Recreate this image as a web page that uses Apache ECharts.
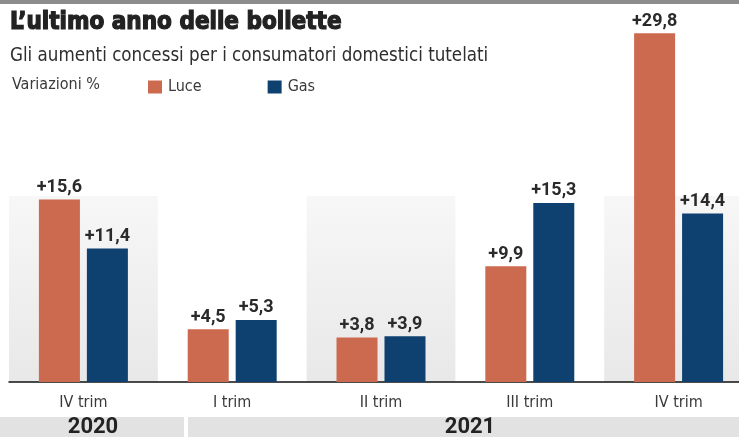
<!DOCTYPE html>
<html>
<head>
<meta charset="utf-8">
<script src="https://cdn.jsdelivr.net/npm/echarts@6/dist/echarts.min.js"></script>
<style>
html,body{margin:0;padding:0;background:#fff;overflow:hidden;}
#chart{width:739px;height:437px;}
</style>
</head>
<body>
<div id="chart"></div>
<script>
// ---- data ----
var categories = ['IV trim', 'I trim', 'II trim', 'III trim', 'IV trim'];
var luce = [15.6, 4.5, 3.8, 9.9, 29.8];
var gas = [11.4, 5.3, 3.9, 15.3, 14.4];
var seriesNames = ['Luce', 'Gas'];
var years = ['2020', '2021'];
var titleText = 'L\u2019ultimo anno delle bollette';
var subtitleText = 'Gli aumenti concessi per i consumatori domestici tutelati';
var unitText = 'Variazioni %';

var LUCE = '#cc6a4f';
var GAS = '#0e416f';
var NARROW = '"Liberation Sans Narrow", "DejaVu Sans Condensed", "Roboto", sans-serif';

function fmt(v) { return '+' + v.toFixed(1).replace('.', ','); }

var chart = echarts.init(document.getElementById('chart'), null, {renderer: 'canvas'});

var panel = new echarts.graphic.LinearGradient(0, 0, 0, 1, [
  {offset: 0, color: 'rgba(255,255,255,0)'},
  {offset: 0.47, color: 'rgba(255,255,255,0)'},
  {offset: 0.471, color: '#f7f7f7'},
  {offset: 1, color: '#e8e8e8'}
]);

var labelStyle = {
  show: true,
  position: 'top',
  distance: 3,
  formatter: function (p) { return fmt(p.value); },
  fontFamily: 'Roboto, sans-serif',
  fontWeight: 'bold',
  fontSize: 18,
  color: '#2a2a2a'
};

chart.setOption({
  animation: false,
  backgroundColor: '#ffffff',
  title: [
    {text: titleText, left: 10, top: 11, padding: 0,
     textStyle: {fontFamily: '"DejaVu Sans Condensed", "DejaVu Sans", sans-serif', fontWeight: 900, fontSize: 24, color: '#222',
                 textBorderColor: '#222', textBorderWidth: 1.2}},
    {text: subtitleText, left: 10, top: 47, padding: 0,
     textStyle: {fontFamily: '"DejaVu Sans Condensed", "Roboto", sans-serif', fontWeight: 'normal', fontSize: 18.6, color: '#2e2e2e'}},
    {text: unitText, left: 12, top: 77, padding: 0,
     textStyle: {fontFamily: NARROW, fontWeight: 'normal', fontSize: 16, color: '#3a3a3a'}}
  ],
  legend: {
    data: seriesNames,
    left: 143, top: 74,
    icon: 'rect',
    itemWidth: 14, itemHeight: 13,
    itemGap: 66,
    textStyle: {fontFamily: NARROW, fontSize: 16, color: '#3a3a3a', padding: [0, 0, 0, 1]}
  },
  grid: {left: 9, width: 744, top: 31, bottom: 55, containLabel: false, outerBoundsMode: 'none'},
  xAxis: {
    type: 'category',
    data: categories,
    boundaryGap: true,
    axisLine: {show: true, lineStyle: {color: '#111', width: 1.5}},
    axisTick: {show: false},
    axisLabel: {fontFamily: NARROW, fontSize: 16, color: '#3a3a3a', margin: 13},
    splitLine: {show: false},
    splitArea: {show: true, interval: 0, areaStyle: {color: [panel, 'rgba(255,255,255,0)']}}
  },
  yAxis: {
    type: 'value', min: 0, max: 30,
    show: false,
    splitLine: {show: false}
  },
  series: [
    {name: seriesNames[0], type: 'bar', data: luce, barWidth: 41, barGap: '17%',
     itemStyle: {color: LUCE}, label: labelStyle},
    {name: seriesNames[1], type: 'bar', data: gas, barWidth: 41, barGap: '17%',
     itemStyle: {color: GAS}, label: labelStyle}
  ],
  graphic: [
    {type: 'rect', left: 0, top: 0, shape: {width: 739, height: 4}, style: {fill: '#8c8c8c'}, silent: true},
    {type: 'rect', left: 0, top: 417, shape: {width: 184, height: 20}, style: {fill: '#e2e2e2'}, silent: true},
    {type: 'rect', left: 188, top: 417, shape: {width: 551, height: 20}, style: {fill: '#e2e2e2'}, silent: true},
    {type: 'text', x: 93, y: 427, style: {text: years[0], fill: '#222', font: 'bold 22px Roboto, sans-serif', textAlign: 'center', textVerticalAlign: 'middle'}, silent: true},
    {type: 'text', x: 470, y: 427, style: {text: years[1], fill: '#222', font: 'bold 22px Roboto, sans-serif', textAlign: 'center', textVerticalAlign: 'middle'}, silent: true}
  ]
});
</script>
</body>
</html>
